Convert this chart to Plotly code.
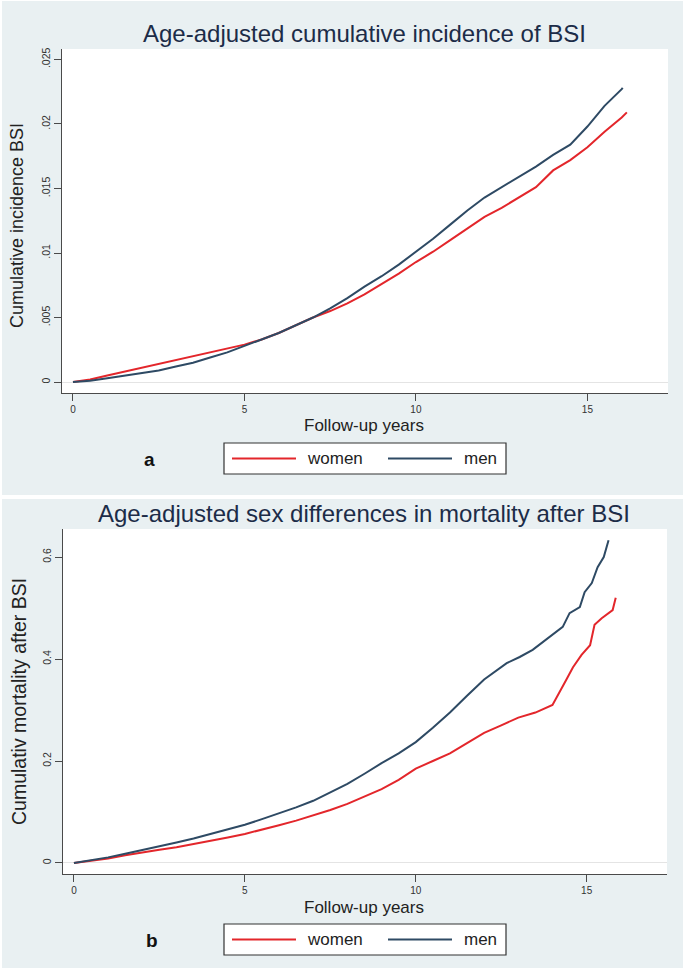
import plotly.graph_objects as go

W, H = 685, 972

# ---------------- data ----------------
# Panel a: age-adjusted cumulative incidence of BSI
years_a_women = [0, 0.5, 1, 1.5, 2, 2.5, 3, 3.5, 4, 4.5, 5, 5.5, 6, 6.5, 7, 7.5, 8, 8.5, 9, 9.5,
                 10, 10.5, 11, 11.5, 12, 12.5, 13, 13.5, 14, 14.5, 15, 15.5, 16, 16.15]
inc_women = [0, 0.0002, 0.0005, 0.0008, 0.0011, 0.0014, 0.0017, 0.0020, 0.0023, 0.0026, 0.0029,
             0.0033, 0.0038, 0.0044, 0.0050, 0.0055, 0.0061, 0.0068, 0.0076, 0.0084, 0.0093,
             0.0101, 0.0110, 0.0119, 0.0128, 0.0135, 0.0143, 0.0151, 0.0164, 0.0172, 0.0182,
             0.0194, 0.0205, 0.0209]
years_a_men = [0, 0.5, 1, 1.5, 2, 2.5, 3, 3.5, 4, 4.5, 5, 5.5, 6, 6.5, 7, 7.5, 8, 8.5, 9, 9.5,
               10, 10.5, 11, 11.5, 12, 12.5, 13, 13.5, 14, 14.5, 15, 15.5, 16, 16.03]
inc_men = [0, 0.0001, 0.0003, 0.0005, 0.0007, 0.0009, 0.0012, 0.0015, 0.0019, 0.0023, 0.0028,
           0.0033, 0.0038, 0.0044, 0.0050, 0.0057, 0.0065, 0.0074, 0.0082, 0.0091, 0.0101,
           0.0111, 0.0122, 0.0133, 0.0143, 0.0151, 0.0159, 0.0167, 0.0176, 0.0184, 0.0198,
           0.0214, 0.0227, 0.0228]

# Panel b: age-adjusted cumulative mortality after BSI
years_b_women = [0, 0.5, 1, 1.5, 2, 2.5, 3, 3.5, 4, 4.5, 5, 5.5, 6, 6.5, 7, 7.5, 8, 8.5, 9, 9.5,
                 10, 10.5, 11, 11.5, 12, 12.5, 13, 13.5, 14, 14.4, 14.6, 14.85, 15.1, 15.23,
                 15.44, 15.76, 15.85]
mort_women = [0, 0.004, 0.009, 0.015, 0.021, 0.026, 0.031, 0.037, 0.044, 0.050, 0.057, 0.065,
              0.074, 0.083, 0.093, 0.104, 0.116, 0.130, 0.145, 0.163, 0.185, 0.200, 0.215,
              0.235, 0.255, 0.270, 0.285, 0.295, 0.310, 0.359, 0.384, 0.408, 0.427, 0.467,
              0.480, 0.496, 0.520]
years_b_men = [0, 0.5, 1, 1.5, 2, 2.5, 3, 3.5, 4, 4.5, 5, 5.5, 6, 6.5, 7, 7.5, 8, 8.5, 9, 9.5,
               10, 10.5, 11, 11.5, 12, 12.66, 13.04, 13.42, 13.92, 14.3, 14.5, 14.8, 14.94,
               15.15, 15.32, 15.5, 15.64]
mort_men = [0, 0.005, 0.011, 0.018, 0.025, 0.032, 0.040, 0.048, 0.057, 0.066, 0.075, 0.086,
            0.097, 0.109, 0.122, 0.138, 0.155, 0.175, 0.196, 0.215, 0.237, 0.265, 0.295, 0.328,
            0.360, 0.392, 0.404, 0.418, 0.443, 0.463, 0.490, 0.502, 0.531, 0.549, 0.580,
            0.600, 0.633]

x_ticks = [0, 5, 10, 15]
y_ticks_a = [0, 0.005, 0.01, 0.015, 0.02, 0.025]
y_ticklabels_a = ["0", ".005", ".01", ".015", ".02", ".025"]
y_ticks_b = [0, 0.2, 0.4, 0.6]
y_ticklabels_b = ["0", "0.2", "0.4", "0.6"]

series_names = ["women", "men"]
title_a = "Age-adjusted cumulative incidence of BSI"
title_b = "Age-adjusted sex differences in mortality after BSI"
ytitle_a = "Cumulative incidence BSI"
ytitle_b = "Cumulativ mortality after BSI"
xtitle = "Follow-up years"
panel_labels = ["a", "b"]

# ---------------- style ----------------
RED = "#E3262B"
NAVY = "#2E4A64"
BG = "#E9F0F2"
FONT = "Liberation Sans, Arial, sans-serif"
TXT = "#222222"
AX = "#4a4a4a"


def px(x):
    return x / W


def py(y):
    return 1 - y / H


fig = go.Figure()

fig.add_trace(go.Scatter(x=years_a_women, y=inc_women, name=series_names[0], mode="lines",
                         line=dict(color=RED, width=2), xaxis="x", yaxis="y"))
fig.add_trace(go.Scatter(x=years_a_men, y=inc_men, name=series_names[1], mode="lines",
                         line=dict(color=NAVY, width=2), xaxis="x", yaxis="y"))
fig.add_trace(go.Scatter(x=years_b_women, y=mort_women, name=series_names[0], mode="lines",
                         line=dict(color=RED, width=2), xaxis="x2", yaxis="y2"))
fig.add_trace(go.Scatter(x=years_b_men, y=mort_men, name=series_names[1], mode="lines",
                         line=dict(color=NAVY, width=2), xaxis="x2", yaxis="y2"))

xcommon = dict(showgrid=False, zeroline=False, showline=True, linecolor=AX, linewidth=1.3,
               ticks="outside", ticklen=7, tickcolor=AX, tickwidth=1.2, automargin=False,
               tickvals=x_ticks, tickfont=dict(size=10, color="#333333", family=FONT),
               range=[-0.32, 17.35])
ycommon = dict(showgrid=False, zeroline=True, zerolinecolor="#E4E4E4", zerolinewidth=1.2,
               showline=True, linecolor=AX, linewidth=1.3, ticks="outside", ticklen=7,
               tickcolor=AX, tickwidth=1.2, tickangle=-90, automargin=False,
               tickfont=dict(size=10.5, color="#333333", family=FONT))

# plot area pixel boxes (left, top, right, bottom)
box_a = (62, 49, 668, 393)
box_b = (63, 529, 667, 874)

shapes = [
    dict(type="rect", xref="paper", yref="paper", x0=px(2), x1=px(683), y0=py(495), y1=py(1),
         fillcolor=BG, line=dict(width=0), layer="below"),
    dict(type="rect", xref="paper", yref="paper", x0=px(2), x1=px(683), y0=py(968), y1=py(499),
         fillcolor=BG, line=dict(width=0), layer="below"),
]
for (l, t, r, b) in (box_a, box_b):
    shapes.append(dict(type="rect", xref="paper", yref="paper", x0=px(l), x1=px(r), y0=py(b),
                       y1=py(t), fillcolor="white", line=dict(width=0), layer="below"))

ann = []
# manual legends (box, line samples, labels)
for top in (443, 924):
    bot = top + 31
    mid = (top + bot) / 2
    shapes.append(dict(type="rect", xref="paper", yref="paper", x0=px(224), x1=px(506),
                       y0=py(bot), y1=py(top), fillcolor="white",
                       line=dict(color="#333333", width=1.2)))
    shapes.append(dict(type="line", xref="paper", yref="paper", x0=px(232), x1=px(296),
                       y0=py(mid), y1=py(mid), line=dict(color=RED, width=2.2)))
    shapes.append(dict(type="line", xref="paper", yref="paper", x0=px(388), x1=px(452),
                       y0=py(mid), y1=py(mid), line=dict(color=NAVY, width=2.2)))
    ann.append(dict(text=series_names[0], x=px(305), y=py(mid), xref="paper", yref="paper",
                    showarrow=False, xanchor="left", yanchor="middle",
                    font=dict(size=17, color=TXT, family=FONT)))
    ann.append(dict(text=series_names[1], x=px(462), y=py(mid), xref="paper", yref="paper",
                    showarrow=False, xanchor="left", yanchor="middle",
                    font=dict(size=17, color=TXT, family=FONT)))

fig.update_layout(
    width=W, height=H,
    margin=dict(l=0, r=0, t=0, b=0, autoexpand=False),
    paper_bgcolor="white",
    plot_bgcolor="white",
    showlegend=False,
    font=dict(family=FONT, color=TXT),
    xaxis=dict(xcommon, domain=[px(box_a[0]), px(box_a[2])], anchor="y"),
    yaxis=dict(ycommon, domain=[py(box_a[3]), py(box_a[1])], anchor="x",
               range=[-0.00085, 0.02581], tickvals=y_ticks_a, ticktext=y_ticklabels_a),
    xaxis2=dict(xcommon, domain=[px(box_b[0]), px(box_b[2])], anchor="y2"),
    yaxis2=dict(ycommon, domain=[py(box_b[3]), py(box_b[1])], anchor="x2",
                range=[-0.0216, 0.655], tickvals=y_ticks_b, ticktext=y_ticklabels_b),
    shapes=shapes,
)

ann.append(dict(text=title_a, x=px(364), y=py(33), xref="paper", yref="paper", showarrow=False,
                xanchor="center", yanchor="middle", font=dict(size=24, color="#1C2C48", family=FONT)))
ann.append(dict(text=title_b, x=px(364), y=py(513), xref="paper", yref="paper", showarrow=False,
                xanchor="center", yanchor="middle", font=dict(size=24, color="#1C2C48", family=FONT)))
ann.append(dict(text=ytitle_a, x=px(17), y=py(226), xref="paper", yref="paper", showarrow=False,
                textangle=-90, xanchor="center", yanchor="middle",
                font=dict(size=18, color=TXT, family=FONT)))
ann.append(dict(text=ytitle_b, x=px(19), y=py(702), xref="paper", yref="paper", showarrow=False,
                textangle=-90, xanchor="center", yanchor="middle",
                font=dict(size=19.5, color=TXT, family=FONT)))
ann.append(dict(text=xtitle, x=px(364), y=py(425), xref="paper", yref="paper", showarrow=False,
                xanchor="center", yanchor="middle", font=dict(size=17, color=TXT, family=FONT)))
ann.append(dict(text=xtitle, x=px(364), y=py(907), xref="paper", yref="paper", showarrow=False,
                xanchor="center", yanchor="middle", font=dict(size=17, color=TXT, family=FONT)))
ann.append(dict(text="<b>%s</b>" % panel_labels[0], x=px(149), y=py(460), xref="paper",
                yref="paper", showarrow=False, xanchor="center", yanchor="middle",
                font=dict(size=19, color="#111111", family=FONT)))
ann.append(dict(text="<b>%s</b>" % panel_labels[1], x=px(152), y=py(940), xref="paper",
                yref="paper", showarrow=False, xanchor="center", yanchor="middle",
                font=dict(size=19, color="#111111", family=FONT)))
fig.update_layout(annotations=ann)

fig.write_html("out.html", config={"displayModeBar": False},
               post_script="document.body.style.margin='0';document.body.style.overflow='hidden';")
